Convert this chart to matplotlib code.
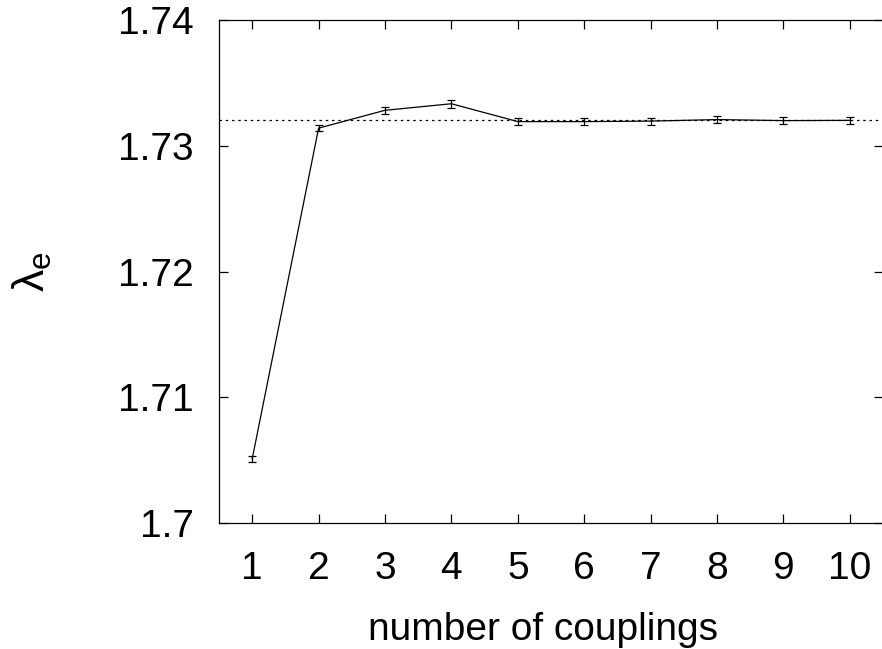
import numpy as np
import matplotlib
matplotlib.use('Agg')
import matplotlib.pyplot as plt

plt.rcParams['font.family'] = ['Liberation Sans', 'DejaVu Sans']
plt.rcParams['mathtext.fontset'] = 'custom'
plt.rcParams['mathtext.rm'] = 'Liberation Sans'
plt.rcParams['mathtext.it'] = 'Liberation Sans'

# data
couplings = [1, 2, 3, 4, 5, 6, 7, 8, 9, 10]
lambda_e = [1.70510, 1.73140, 1.73282, 1.73334, 1.73192, 1.73192, 1.73196, 1.73208, 1.73200, 1.73202]
lambda_err = [0.00025, 0.00025, 0.00028, 0.00030, 0.00030, 0.00028, 0.00028, 0.00030, 0.00028, 0.00028]
exact = np.sqrt(3)

fig = plt.figure(figsize=(8.82, 6.49), dpi=100)
ax = fig.add_axes([219 / 882, 1 - 523 / 649, 664 / 882, 503 / 649])

ax.axhline(exact, color='black', lw=0.9, linestyle=(0, (2, 3)))
ax.errorbar(couplings, lambda_e, yerr=lambda_err, color='black', lw=0.9,
            elinewidth=0.9, capsize=3, capthick=0.9)

ax.set_xlim(0.5, 10.5)
ax.set_ylim(1.70, 1.74)
ax.set_xticks(couplings)
ax.set_yticks([1.70, 1.71, 1.72, 1.73, 1.74])
ax.set_yticklabels(['1.7', '1.71', '1.72', '1.73', '1.74'])
ax.tick_params(direction='in', length=6.5, width=0.9, labelsize=28,
               top=True, right=True)
ax.tick_params(axis='y', pad=18)
ax.tick_params(axis='x', pad=20)
for s in ax.spines.values():
    s.set_linewidth(0.9)

ax.set_xlabel('number of couplings', fontsize=28, labelpad=18)
ax.xaxis.label.set_x(0.488)
ax.set_ylabel(r'$\lambda_\mathrm{e}$', fontsize=32, labelpad=46)

fig.savefig('out.png', dpi=100)
